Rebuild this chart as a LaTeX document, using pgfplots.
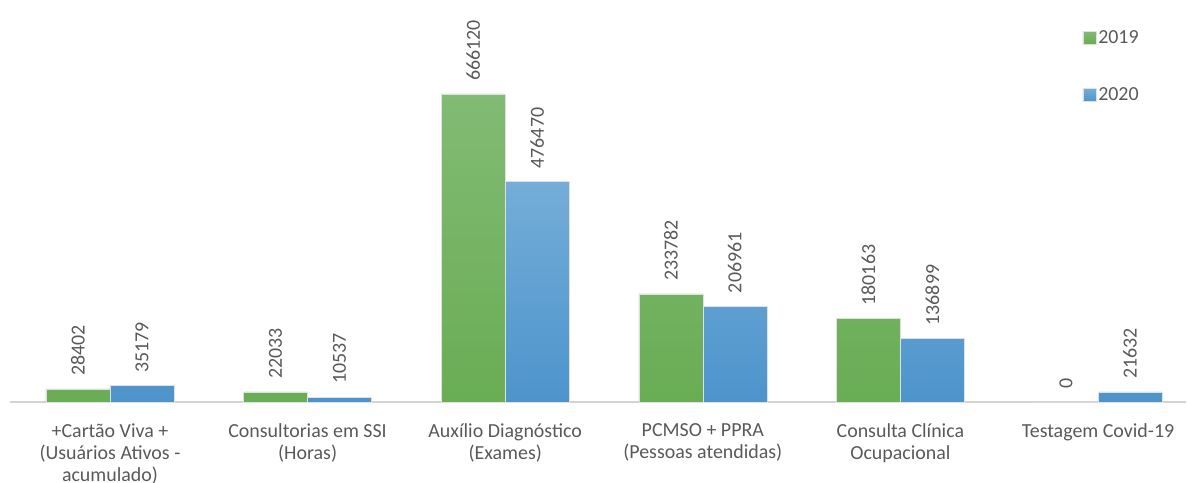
\documentclass[border=0pt]{standalone}
\usepackage{pgfplots}
\pgfplotsset{compat=1.18}
\usepackage{fontspec}
\setmainfont{Carlito}
\definecolor{txt}{HTML}{595959}
\definecolor{gtop}{HTML}{82BB74}
\definecolor{gbot}{HTML}{69AD54}
\definecolor{btop}{HTML}{74ADD9}
\definecolor{bbot}{HTML}{4D94CB}
\begin{document}
\begin{tikzpicture}
\begin{axis}[
  scale only axis,
  width=1176bp, height=402bp,
  xmin=-0.506, xmax=5.445,
  ymin=0, ymax=869400,
  ybar=0pt, bar width=64bp,
  axis x line*=bottom, axis y line=none,
  x axis line style={draw=black!17, line width=1.3bp},
  xtick={0,1,2,3,4,5},
  major tick length=0pt,
  xticklabels={{+Cartão Viva +\\(Usuários Ativos -\\acumulado)},{Consultorias em SSI\\(Horas)},{Auxílio Diagnóstico\\(Exames)},{PCMSO + PPRA\\(Pessoas atendidas)},{Consulta Clínica\\Ocupacional},{Testagem Covid-19}},
  xticklabel style={align=center, font=\fontsize{20}{22}\selectfont, text=txt, yshift=-18bp},
  nodes near coords={\pgfmathprintnumber[fixed,precision=0,1000 sep={},assume math mode=true]{\pgfplotspointmeta}},
  every node near coord/.append style={rotate=90, anchor=west, inner xsep=13bp, font=\fontsize{20}{22}\selectfont, text=txt},
  legend style={at={(rel axis cs:0.912,0.93)}, anchor=north west, draw=none, fill=none,
    font=\fontsize{20}{24}\selectfont, text=txt, row sep=39bp, inner sep=0pt},
  legend cell align=left,
  legend image code/.code={\fill[#1] (0bp,-6.5bp) rectangle (13bp,6.5bp);},
]
\addplot[draw=black!12, line width=0.6bp, top color=gtop, bottom color=gbot] coordinates {(0,28402) (1,22033) (2,666120) (3,233782) (4,180163) (5,0)};
\addplot[draw=black!12, line width=0.6bp, top color=btop, bottom color=bbot] coordinates {(0,35179) (1,10537) (2,476470) (3,206961) (4,136899) (5,21632)};
\legend{2019,2020}
\end{axis}
\pgfresetboundingbox
\path[use as bounding box] ([shift={(-10bp,-81bp)}]current axis.south west) rectangle ++(1187bp,483bp);
\end{tikzpicture}
\end{document}
